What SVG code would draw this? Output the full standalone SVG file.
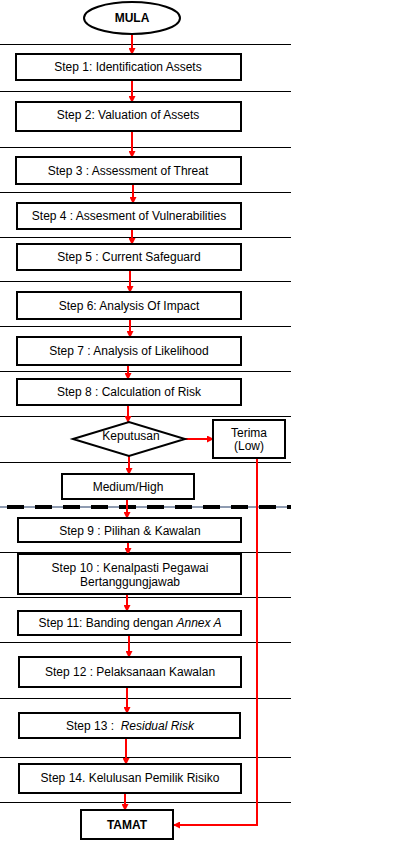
<svg xmlns="http://www.w3.org/2000/svg" width="411" height="843" viewBox="0 0 411 843">
<style>
.box{fill:#fff;stroke:#000;stroke-width:2}
.sep{stroke:#000;stroke-width:1}
.t{font-family:"Liberation Sans",Arial,sans-serif;font-size:12px;fill:#000;text-anchor:middle}
.b{font-weight:bold}
.c{stroke:#f00;stroke-width:2;fill:none}
</style>
<defs>
<marker id="ah" markerWidth="7" markerHeight="7" refX="6" refY="3.5" orient="auto" markerUnits="userSpaceOnUse">
<path d="M0,0 L7,3.5 L0,7 Z" fill="#f00"/>
</marker>
</defs>
<rect width="411" height="843" fill="#fff"/>
<g id="separators">
<line class="sep" x1="0" y1="44.5" x2="291" y2="44.5"/>
<line class="sep" x1="0" y1="91.5" x2="291" y2="91.5"/>
<line class="sep" x1="0" y1="147.5" x2="291" y2="147.5"/>
<line class="sep" x1="0" y1="192.5" x2="291" y2="192.5"/>
<line class="sep" x1="0" y1="237.5" x2="291" y2="237.5"/>
<line class="sep" x1="0" y1="281.5" x2="291" y2="281.5"/>
<line class="sep" x1="0" y1="326.5" x2="291" y2="326.5"/>
<line class="sep" x1="0" y1="371.5" x2="291" y2="371.5"/>
<line class="sep" x1="0" y1="416.5" x2="291" y2="416.5"/>
<line class="sep" x1="0" y1="462.5" x2="291" y2="462.5"/>
<line x1="0" y1="507" x2="291" y2="507" stroke="#1f3864" stroke-width="1"/>
<line x1="7" y1="507" x2="291" y2="507" stroke="#000" stroke-width="4" stroke-dasharray="17,11"/>
<line class="sep" x1="0" y1="552.5" x2="291" y2="552.5"/>
<line class="sep" x1="0" y1="597.5" x2="291" y2="597.5"/>
<line class="sep" x1="0" y1="642.5" x2="291" y2="642.5"/>
<line class="sep" x1="0" y1="698.5" x2="291" y2="698.5"/>
<line class="sep" x1="0" y1="757.5" x2="291" y2="757.5"/>
<line class="sep" x1="0" y1="802.5" x2="291" y2="802.5"/>
</g>
<g id="connectors">
<line class="c" x1="132" y1="34" x2="132" y2="54" marker-end="url(#ah)"/>
<line class="c" x1="132" y1="80" x2="132" y2="102" marker-end="url(#ah)"/>
<line class="c" x1="132" y1="131" x2="132" y2="157" marker-end="url(#ah)"/>
<line class="c" x1="133" y1="184" x2="133" y2="203" marker-end="url(#ah)"/>
<line class="c" x1="132" y1="229" x2="132" y2="244" marker-end="url(#ah)"/>
<line class="c" x1="130" y1="270" x2="130" y2="292" marker-end="url(#ah)"/>
<line class="c" x1="130" y1="319" x2="130" y2="337" marker-end="url(#ah)"/>
<line class="c" x1="128" y1="365" x2="128" y2="379" marker-end="url(#ah)"/>
<line class="c" x1="128" y1="405" x2="128" y2="422" marker-end="url(#ah)"/>
<line class="c" x1="129" y1="456" x2="129" y2="474" marker-end="url(#ah)"/>
<line class="c" x1="127" y1="499" x2="127" y2="518" marker-end="url(#ah)"/>
<line class="c" x1="128" y1="542" x2="128" y2="554" marker-end="url(#ah)"/>
<line class="c" x1="127" y1="594" x2="127" y2="611" marker-end="url(#ah)"/>
<line class="c" x1="129" y1="635" x2="129" y2="657" marker-end="url(#ah)"/>
<line class="c" x1="127" y1="687" x2="127" y2="713" marker-end="url(#ah)"/>
<line class="c" x1="126" y1="738" x2="126" y2="764" marker-end="url(#ah)"/>
<line class="c" x1="125" y1="793" x2="125" y2="810" marker-end="url(#ah)"/>
<line class="c" x1="185" y1="439" x2="213" y2="439" marker-end="url(#ah)"/>
<polyline class="c" points="257,458 257,825 174,825" marker-end="url(#ah)"/>
</g>
<g id="mula">
<ellipse cx="132" cy="18" rx="48" ry="16" class="box"/>
<text class="t b" x="132" y="22">MULA</text>
</g>
<g id="step1">
<rect class="box" x="16" y="54" width="225" height="26"/>
<text class="t" x="128" y="71">Step 1: Identification Assets</text>
</g>
<g id="step2">
<rect class="box" x="16" y="102" width="225" height="29"/>
<text class="t" x="128" y="119">Step 2: Valuation of Assets</text>
</g>
<g id="step3">
<rect class="box" x="16" y="157" width="225" height="27"/>
<text class="t" x="128" y="175">Step 3 : Assessment of Threat</text>
</g>
<g id="step4">
<rect class="box" x="17" y="203" width="224" height="26"/>
<text class="t" x="129" y="220">Step 4 : Assesment of Vulnerabilities</text>
</g>
<g id="step5">
<rect class="box" x="17" y="244" width="224" height="26"/>
<text class="t" x="129" y="261">Step 5 : Current Safeguard</text>
</g>
<g id="step6">
<rect class="box" x="17" y="292" width="224" height="27"/>
<text class="t" x="129" y="310">Step 6: Analysis Of Impact</text>
</g>
<g id="step7">
<rect class="box" x="17" y="337" width="224" height="28"/>
<text class="t" x="129" y="355">Step 7 : Analysis of Likelihood</text>
</g>
<g id="step8">
<rect class="box" x="17" y="379" width="224" height="26"/>
<text class="t" x="129" y="396">Step 8 : Calculation of Risk</text>
</g>
<g id="keputusan">
<polygon class="box" points="73,439 129,422 185,439 129,456"/>
<text class="t" x="131" y="440">Keputusan</text>
</g>
<g id="terima">
<rect class="box" x="213" y="420" width="72" height="38"/>
<text class="t" x="249" y="437">Terima</text>
<text class="t" x="249" y="450">(Low)</text>
</g>
<g id="medium">
<rect class="box" x="62" y="474" width="132" height="25"/>
<text class="t" x="128" y="491">Medium/High</text>
</g>
<g id="step9">
<rect class="box" x="18" y="518" width="223" height="24"/>
<text class="t" x="130" y="535">Step 9 : Pilihan &amp; Kawalan</text>
</g>
<g id="step10">
<rect class="box" x="18" y="554" width="223" height="40"/>
<text class="t" x="130" y="572">Step 10 : Kenalpasti Pegawai</text>
<text class="t" x="130" y="586">Bertanggungjawab</text>
</g>
<g id="step11">
<rect class="box" x="18" y="611" width="223" height="24"/>
<text class="t" x="130" y="627">Step 11: Banding dengan <tspan font-style="italic">Annex A</tspan></text>
</g>
<g id="step12">
<rect class="box" x="19" y="657" width="222" height="30"/>
<text class="t" x="130" y="676">Step 12 : Pelaksanaan Kawalan</text>
</g>
<g id="step13">
<rect class="box" x="19" y="713" width="221" height="25"/>
<text class="t" x="130" y="730">Step 13 :&#160; <tspan font-style="italic">Residual Risk</tspan></text>
</g>
<g id="step14">
<rect class="box" x="19" y="764" width="222" height="29"/>
<text class="t" x="130" y="782">Step 14. Kelulusan Pemilik Risiko</text>
</g>
<g id="tamat">
<rect class="box" x="81" y="810" width="92" height="29"/>
<text class="t b" x="127" y="829">TAMAT</text>
</g>
</svg>
